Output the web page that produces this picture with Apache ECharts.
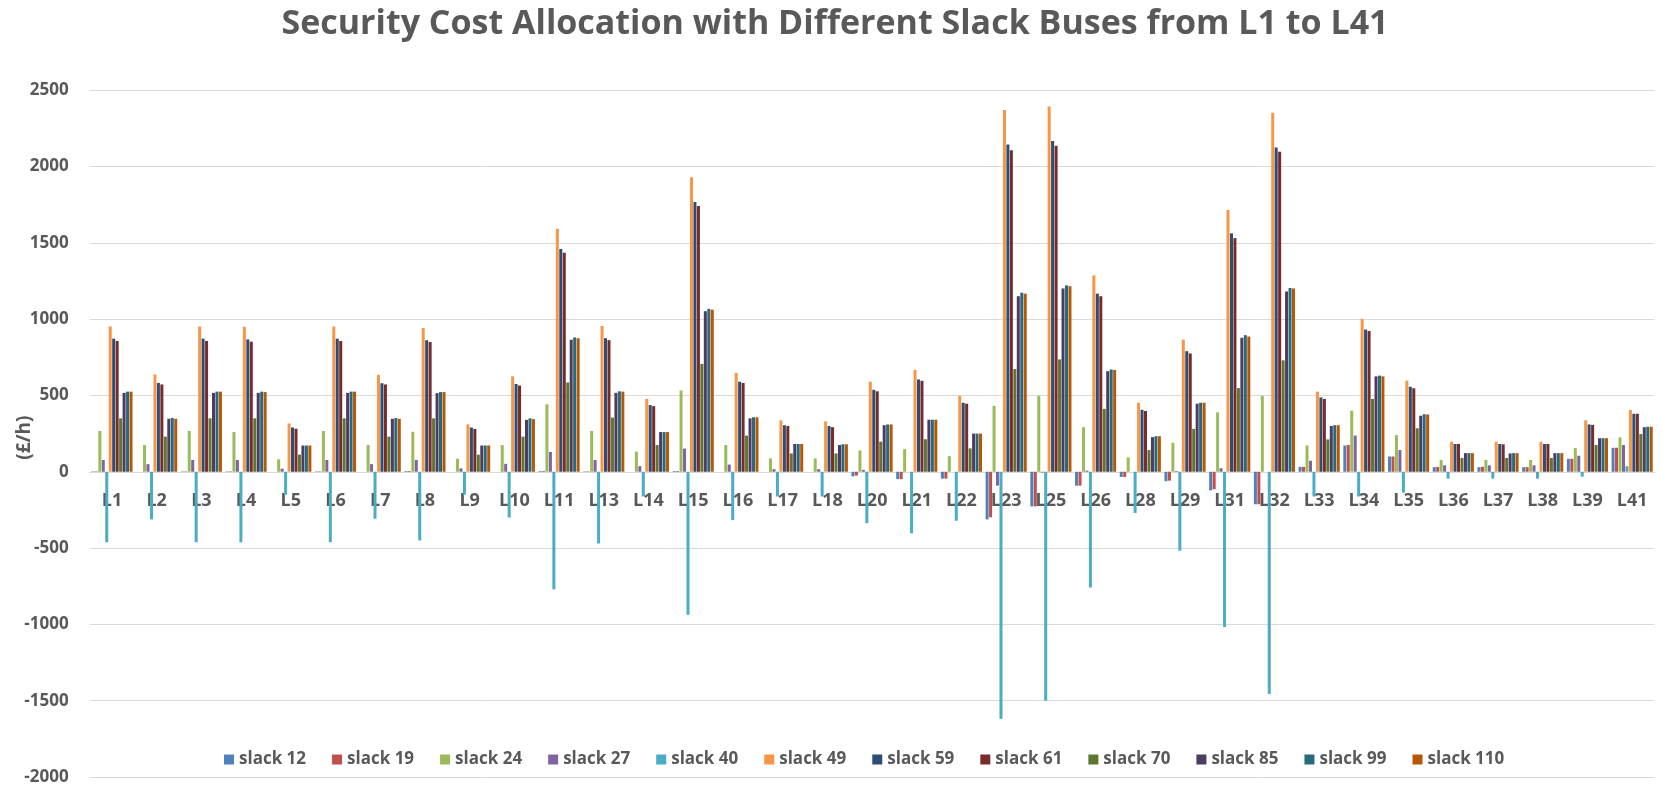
<!DOCTYPE html>
<html>
<head>
<meta charset="utf-8">
<script src="https://cdn.jsdelivr.net/npm/echarts@6/dist/echarts.min.js"></script>
<style>
html,body{margin:0;padding:0;background:#fff;}
#chart{width:1670px;height:789px;}
</style>
</head>
<body>
<div id="chart"></div>
<script>
const categories = ["L1","L2","L3","L4","L5","L6","L7","L8","L9","L10","L11","L13","L14","L15","L16","L17","L18","L20","L21","L22","L23","L25","L26","L28","L29","L31","L32","L33","L34","L35","L36","L37","L38","L39","L41"];
const seriesNames = ["slack 12","slack 19","slack 24","slack 27","slack 40","slack 49","slack 59","slack 61","slack 70","slack 85","slack 99","slack 110"];
const slack12 = [3,0,3,3,0,3,0,5,0,0,5,3,0,5,0,0,0,-30,-48,-45,-312,-227,-91,-34,-62,-122,-213,32,172,100,30,30,30,85,157];
const slack19 = [3,0,3,3,0,3,0,5,0,0,5,3,0,5,0,0,0,-25,-48,-45,-298,-227,-91,-34,-58,-114,-213,32,175,100,32,32,30,85,157];
const slack24 = [267,175,267,260,82,267,175,262,85,175,442,267,132,532,175,87,87,140,148,102,432,497,292,94,190,389,497,172,400,240,77,77,77,155,225];
const slack27 = [77,50,77,77,20,77,50,77,22,52,130,77,37,152,47,17,17,12,0,0,-91,-5,8,0,5,23,0,72,237,142,42,42,42,105,175];
const slack40 = [-462,-312,-462,-462,-150,-462,-307,-450,-150,-300,-770,-470,-162,-937,-317,-162,-162,-337,-403,-321,-1619,-1500,-758,-270,-517,-1017,-1457,-162,-162,-137,-45,-45,-45,-32,37];
const slack49 = [952,637,952,950,317,952,635,942,310,625,1592,955,477,1930,647,337,330,590,667,497,2371,2394,1287,452,866,1715,2352,525,1002,597,197,197,197,337,405];
const slack59 = [872,582,872,867,290,872,580,862,290,575,1460,875,437,1767,590,305,300,537,605,452,2144,2167,1167,406,790,1562,2124,487,932,557,182,182,182,310,380];
const slack61 = [857,572,857,852,282,857,572,850,280,565,1435,862,430,1742,582,300,292,527,596,446,2107,2136,1150,398,775,1531,2096,477,922,547,182,180,182,307,380];
const slack70 = [350,230,350,350,112,350,230,350,112,230,585,355,175,707,237,120,120,197,213,153,673,736,412,142,281,548,730,212,477,285,90,90,90,175,247];
const slack85 = [517,347,517,517,172,517,347,515,172,340,865,517,260,1052,350,182,175,305,341,250,1150,1201,659,227,446,878,1181,300,625,367,122,120,122,220,292];
const slack99 = [525,352,525,525,172,525,352,522,172,350,880,527,260,1067,357,182,180,310,341,250,1173,1221,670,233,452,895,1204,305,630,377,122,122,122,220,295];
const slack110 = [525,347,525,522,172,525,347,522,172,345,875,525,260,1062,357,182,180,310,341,250,1167,1216,667,233,452,886,1201,305,625,375,122,122,122,220,295];
const seriesValues = [slack12,slack19,slack24,slack27,slack40,slack49,slack59,slack61,slack70,slack85,slack99,slack110];
const colors = ["#4F81BD","#C0504D","#9BBB59","#8064A2","#4BACC6","#F79646","#2C4D75","#772C2A","#5F7530","#4D3B62","#276A7C","#B65708"];
const yMin = -2000, yMax = 2500, yStep = 500;

const W = 1670, H = 789;
const gridTop = 90.2, gridBottom = 12;
const plotH = H - gridTop - gridBottom;
const zeroOffset = -plotH * (0 - yMin) / (yMax - yMin);

const chart = echarts.init(document.getElementById('chart'), null, {renderer:'canvas'});
const textColor = '#595959';
chart.setOption({
  animation:false,
  color: colors,
  title:{
    text:'Security Cost Allocation with Different Slack Buses from L1 to L41',
    left:'center', top:2,
    textStyle:{fontFamily:'Open Sans', fontWeight:'bold', fontSize:34, color:textColor}
  },
  legend:{
    data:seriesNames,
    bottom:16, left:219,
    itemWidth:10, itemHeight:10, itemGap:26,
    icon:'rect',
    textStyle:{fontFamily:'Open Sans', fontWeight:'bold', fontSize:17, color:textColor}
  },
  grid:{left:89.6, right:15.5, top:gridTop, bottom:gridBottom, containLabel:false},
  xAxis:{
    type:'category', data:categories,
    position:'bottom', offset: zeroOffset,
    axisTick:{show:false},
    axisLine:{onZero:false, lineStyle:{color:'#d9d9d9', width:1}},
    axisLabel:{margin:20, interval:0, fontFamily:'Open Sans', fontWeight:'bold', fontSize:18, color:textColor}
  },
  yAxis:{
    type:'value', min:yMin, max:yMax, interval:yStep,
    name:'(£/h)', nameLocation:'middle', nameGap:56, nameMoveOverlap:false,
    nameTextStyle:{fontFamily:'Open Sans', fontWeight:'bold', fontSize:19, color:textColor, padding:[0,8,0,0]},
    axisLine:{show:false}, axisTick:{show:false},
    axisLabel:{margin:21, fontFamily:'Open Sans', fontWeight:'bold', fontSize:17, color:textColor,
      formatter:(v)=>String(v)},
    splitLine:{lineStyle:{color:'#d9d9d9', width:1}}
  },
  series: seriesNames.map((n,i)=>({
    name:n, type:'bar', data:seriesValues[i],
    barGap:'15%', barCategoryGap:'8%'
  }))
});
</script>
</body>
</html>
